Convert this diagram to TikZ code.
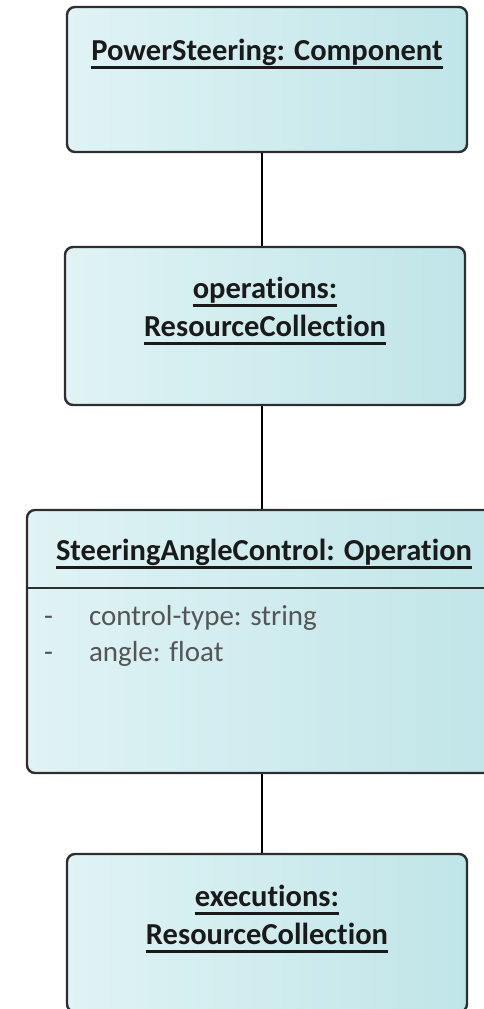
\documentclass[tikz,border=0pt]{standalone}
\usepackage{fontspec}
\setmainfont{Carlito}[Ligatures=NoCommon]
\usepackage{tikz}
\usetikzlibrary{positioning}
\usepackage{xcolor}
\definecolor{BoxLeft}{HTML}{E0F3F5}
\definecolor{BoxRight}{HTML}{C0E5E8}
\definecolor{BoxEdge}{HTML}{2E2E2E}
\definecolor{TitleInk}{HTML}{1A1A1A}
\definecolor{AttrGray}{HTML}{555555}
\newsavebox{\ulbox}
\newcommand{\ulname}[1]{%
  \sbox{\ulbox}{#1}%
  \rlap{\rule[-8pt]{\wd\ulbox}{2.4pt}}\usebox{\ulbox}}
\tikzset{%
  instance/.style={%
    rectangle,%
    rounded corners=8pt,%
    draw=BoxEdge,%
    line width=2.4pt,%
    left color=BoxLeft,%
    right color=BoxRight,%
    inner sep=0pt,%
  },
  instance_title/.style={%
    font={\fontsize{30.5}{38}\selectfont\bfseries},%
    text=TitleInk,%
    align=center,%
    anchor=base,%
    inner sep=0pt,%
  },
  attribute/.style={%
    font={\fontsize{29}{36}\selectfont},%
    text=AttrGray,%
    anchor=base west,%
    inner sep=0pt,%
  },
  link/.style={%
    draw=black,%
    line width=1.8pt,%
  },
}
\begin{document}
\begin{tikzpicture}[x=1pt, y=-1pt]
    \clip (0,0) rectangle (484,1009);

    \node[instance, minimum width=400pt, minimum height=145pt] (Comp) at (267,79.5) {};
    \node[instance, minimum width=400pt, minimum height=158pt] (Ops) at (265,326) {};
    \node[instance, minimum width=474pt, minimum height=263pt] (Op) at (264,641.5) {};
    \node[instance, minimum width=400pt, minimum height=158pt] (Execs) at (267,933) {};

    % base of a two-line title is its last line
    \node[instance_title] (CompTitle) at ([yshift=-55pt]Comp.north)
      {\ulname{PowerSteering: Component}};
    \node[instance_title] (OpsTitle) at ([yshift=-91pt]Ops.north)
      {\ulname{operations:}\\\ulname{ResourceCollection}};
    \node[instance_title] (OpTitle) at ([yshift=-52pt]Op.north)
      {\ulname{SteeringAngleControl: Operation}};
    \node[instance_title] (ExecsTitle) at ([yshift=-92pt]Execs.north)
      {\ulname{executions:}\\\ulname{ResourceCollection}};

    % attribute compartment
    \draw[draw=BoxEdge, line width=2pt]
      ([yshift=-79pt]Op.north west)
      --
      ([yshift=-79pt]Op.north east);
    \node[attribute] (Dash1) at ([xshift=18pt, yshift=-117pt]Op.north west) {-};
    \node[attribute] (Attr1) at ([xshift=63pt, yshift=-117pt]Op.north west) {control-type: string};
    \node[attribute] (Dash2) at ([xshift=18pt, yshift=-153pt]Op.north west) {-};
    \node[attribute] (Attr2) at ([xshift=63pt, yshift=-153pt]Op.north west) {angle: float};

    \draw[link]
      ([xshift=-5pt]Comp.south)
      --
      ([xshift=-3pt]Ops.north);
    \draw[link]
      ([xshift=-3pt]Ops.south)
      --
      ([xshift=-2pt]Op.north);
    \draw[link]
      ([xshift=-2pt]Op.south)
      --
      ([xshift=-5pt]Execs.north);

  \end{tikzpicture}
\end{document}
